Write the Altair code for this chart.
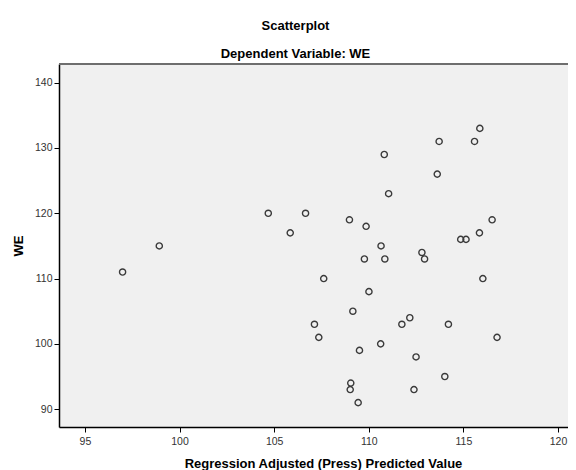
import altair as alt
import pandas as pd

# Data
pred_x = [96.99, 98.93, 104.69, 106.66, 105.85, 108.98, 109.86, 110.65, 109.77, 110.85,
          107.62, 110.01, 109.16, 107.13, 107.36, 110.63, 109.51, 109.05, 109.02, 109.44,
          110.82, 115.87, 113.72, 115.59, 113.62, 111.05, 116.52, 115.85, 114.86, 115.14,
          112.81, 112.95, 116.03, 111.75, 112.17, 114.21, 116.78, 112.50, 114.02, 112.39]
we_y = [111, 115, 120, 120, 117, 119, 118, 115, 113, 113,
        110, 108, 105, 103, 101, 100, 99, 94, 93, 91,
        129, 133, 131, 131, 126, 123, 119, 117, 116, 116,
        114, 113, 110, 103, 104, 103, 101, 98, 95, 93]
x_ticks = [95, 100, 105, 110, 115, 120]
y_ticks = [90, 100, 110, 120, 130, 140]

df = pd.DataFrame({"x": pred_x, "y": we_y})

W, H = 509, 363
FONT = "Liberation Sans"

points = alt.Chart(df).mark_point(
    shape="circle", filled=False, size=38, strokeWidth=1.4, color="#3a3a3a", opacity=1
).encode(
    x=alt.X("x:Q", scale=alt.Scale(domain=[93.63, 120.53], nice=False, zero=False),
            axis=alt.Axis(values=x_ticks, grid=False, domainColor="black", domainWidth=1.5,
                          tickColor="black", tickSize=5, tickWidth=1,
                          labelFont=FONT, labelFontSize=10.5, labelColor="#333333",
                          labelPadding=4, labelFlush=False,
                          title="Regression Adjusted (Press) Predicted Value",
                          titleFont=FONT, titleFontSize=13, titleFontWeight="bold",
                          titleColor="black", titleX=264, titleY=36,
                          titleAlign="center", titleBaseline="middle")),
    y=alt.Y("y:Q", scale=alt.Scale(domain=[87.27, 142.86], nice=False, zero=False),
            axis=alt.Axis(values=y_ticks, grid=False, domainColor="black", domainWidth=1.5,
                          tickColor="black", tickSize=5, tickWidth=1,
                          labelFont=FONT, labelFontSize=10.5, labelColor="#333333",
                          labelPadding=2, labelFlush=False,
                          title="WE", titleFont=FONT, titleFontSize=13,
                          titleFontWeight="bold", titleColor="black",
                          titleX=-41, titleY=H / 2, titleAlign="center",
                          titleBaseline="middle")),
)

top_border = alt.Chart(pd.DataFrame({"a": [0]})).mark_rule(
    color="#6e6e6e", strokeWidth=2
).encode(x=alt.value(0), x2=alt.value(W), y=alt.value(0))

chart = alt.layer(points, top_border).properties(
    width=W, height=H,
    autosize=alt.AutoSizeParams(type="none"),
    padding={"left": 51, "top": 56, "right": 0, "bottom": 43},
    title=alt.TitleParams(
        text="Scatterplot", subtitle="Dependent Variable: WE",
        font=FONT, fontSize=13, fontWeight="bold", color="black",
        subtitleFont=FONT, subtitleFontSize=13, subtitleFontWeight="bold",
        subtitleColor="black", anchor="middle", dx=-18, offset=2,
        subtitlePadding=15),
).configure(background="white").configure_view(fill="#f0f0f0", stroke="transparent")

chart.save("out.html", embed_options={"renderer": "svg", "actions": False})
